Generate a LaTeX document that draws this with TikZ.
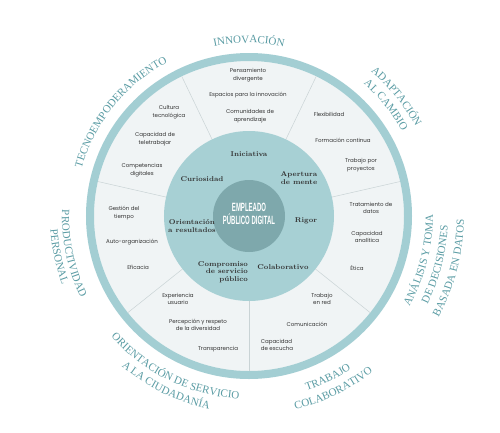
\documentclass[tikz,border=0pt]{standalone}
\usepackage{fontspec}
\usetikzlibrary{decorations.text}
\newfontfamily\itemfont{Poppins}
\newfontfamily\hubfont{Liberation Sans}[FakeStretch=0.5]
\newfontfamily\ringfont{Liberation Serif}
\definecolor{RingTeal}{HTML}{A3CED3}
\definecolor{CoreTeal}{HTML}{A7D0D4}
\definecolor{HubTeal}{HTML}{7EA8AC}
\definecolor{SectorGray}{HTML}{F0F4F5}
\definecolor{LabelTeal}{HTML}{5A9CA4}
\definecolor{ItemGray}{HTML}{333333}
\definecolor{DividerGray}{HTML}{C9D3D5}

\tikzset{
  item/.style={font=\itemfont\fontsize{5.5}{7.5}\selectfont, text=ItemGray, align=center, inner sep=0pt},
  value/.style={font=\bfseries\fontsize{7}{7.5}\selectfont, text=black!80, align=center, inner sep=0pt},
  ringlabel/.style={decorate, decoration={text along path, text align=center,
      text={|\color{LabelTeal}\ringfont\fontsize{11}{11}\selectfont|#1}}},
}

\begin{document}
\begin{tikzpicture}[x=1pt, y=1pt]
    \useasboundingbox (-249,-216) rectangle (251,216);
    \fill[white] (-249,-216) rectangle (251,216);

    % Outer ring and sector background
    \fill[SectorGray] (0,0) circle (155);
    \fill[RingTeal, even odd rule] (0,0) circle (163) (0,0) circle (155);

    % Sector dividers (seven sectors)
    \foreach \k in {0,...,6}
        \draw[DividerGray, line width=0.5pt] ({270+\k*360/7}:85) -- ({270+\k*360/7}:155);

    % Values circle and hub
    \fill[CoreTeal] (0,0) circle (85);
    \fill[HubTeal] (0,0) circle (36);
    \node[font=\hubfont\bfseries\fontsize{12}{13.5}\selectfont, text=white, align=center, inner sep=0pt]
        (hub) at (0,2) {EMPLEADO\\PÚBLICO DIGITAL};

    % Values
    \node[value] (iniciativa) at (0,62) {Iniciativa};
    \node[value] (apertura) at (50,38) {Apertura\\de mente};
    \node[value] (rigor) at (57,-5) {Rigor};
    \node[value] (colab) at (34,-51) {Colaborativo};
    \node[value, align=right] (compromiso) at (-26,-56) {Compromiso\\de servicio\\público};
    \node[value] (orientacion) at (-57,-10) {Orientación\\a resultados};
    \node[value] (curiosidad) at (-47,37) {Curiosidad};

    % Innovacion
    \node[item] (inn1) at (-1,141) {Pensamiento\\divergente};
    \node[item] (inn2) at (-1,121) {Espacios para la innovación};
    \node[item] (inn3) at (1,100) {Comunidades de\\aprendizaje};

    % Adaptacion al cambio
    \node[item] (ada1) at (80,102) {Flexibilidad};
    \node[item] (ada2) at (94,76) {Formación continua};
    \node[item] (ada3) at (112,51) {Trabajo por\\proyectos};

    % Analisis de datos
    \node[item] (ana1) at (122,8) {Tratamiento de\\datos};
    \node[item] (ana2) at (118,-21) {Capacidad\\analítica};
    \node[item] (ana3) at (108,-52) {Ética};

    % Trabajo colaborativo
    \node[item] (tra1) at (73,-83) {Trabajo\\en red};
    \node[item] (tra2) at (58,-108) {Comunicación};
    \node[item, align=left] (tra3) at (28,-129) {Capacidad\\de escucha};

    % Orientacion de servicio
    \node[item] (ori1) at (-71,-83) {Experiencia\\usuario};
    \node[item] (ori2) at (-51,-109) {Percepción y respeto\\de la diversidad};
    \node[item] (ori3) at (-31,-133) {Transparencia};

    % Productividad personal
    \node[item] (pro1) at (-125,3) {Gestión del\\tiempo};
    \node[item] (pro2) at (-117,-26) {Auto-organización};
    \node[item] (pro3) at (-111,-51) {Eficacia};

    % Tecnoempoderamiento
    \node[item] (tec1) at (-80,104) {Cultura\\tecnológica};
    \node[item] (tec2) at (-94,77) {Capacidad de\\teletrabajar};
    \node[item] (tec3) at (-107,46) {Competencias\\digitales};

    % Competence names round the ring (clockwise on top, anticlockwise below)
    \path[ringlabel={INNOVACIÓN}] (125:173) arc[start angle=125, end angle=55, radius=173];
    \path[ringlabel={TECNOEMPODERAMIENTO}] (176:174) arc[start angle=176, end angle=106, radius=174];
    \path[ringlabel={ADAPTACIÓN}] (74:189) arc[start angle=74, end angle=4, radius=189];
    \path[ringlabel={AL CAMBIO}] (74:175) arc[start angle=74, end angle=4, radius=175];
    \path[ringlabel={ANÁLISIS Y TOMA}] (-50:184) arc[start angle=-50, end angle=21, radius=184];
    \path[ringlabel={DE DECISIONES}] (-50:199) arc[start angle=-50, end angle=21, radius=199];
    \path[ringlabel={BASADA EN DATOS}] (-50:215) arc[start angle=-50, end angle=21, radius=215];
    \path[ringlabel={TRABAJO}] (261:184) arc[start angle=261, end angle=331, radius=184];
    \path[ringlabel={COLABORATIVO}] (261:199) arc[start angle=261, end angle=331, radius=199];
    \path[ringlabel={ORIENTACIÓN DE SERVICIO}] (209:183) arc[start angle=209, end angle=279, radius=183];
    \path[ringlabel={A LA CIUDADANÍA}] (209:197) arc[start angle=209, end angle=279, radius=197];
    \path[ringlabel={PRODUCTIVIDAD}] (157:187) arc[start angle=157, end angle=227, radius=187];
    \path[ringlabel={PERSONAL}] (157:199) arc[start angle=157, end angle=227, radius=199];
\end{tikzpicture}
\end{document}
